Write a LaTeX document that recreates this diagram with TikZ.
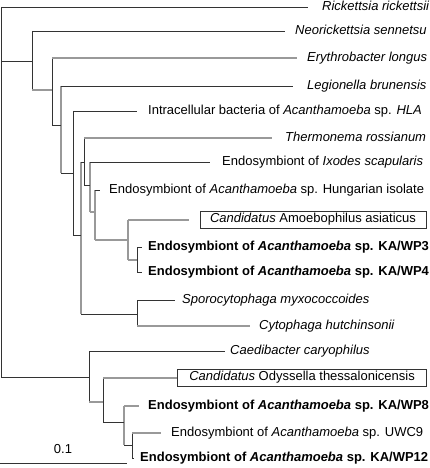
\documentclass[tikz,border=0pt]{standalone}
\usepackage{fontspec}
\setmainfont{Liberation Sans}

\begin{document}
\begin{tikzpicture}[
    x=1pt, y=-1pt,
    font=\fontsize{13}{15}\selectfont,
    dk/.style={draw=black!80, line width=0.8pt},
    lt/.style={draw=black!40, line width=1.1pt},
    leaf/.style={anchor=west, inner xsep=10pt, inner ysep=0pt, text height=0.62em, text depth=0pt},
    strain/.style={leaf, font=\fontsize{13}{15}\selectfont\bfseries},
    taxbox/.style={anchor=west, draw=black!80, line width=0.7pt, inner xsep=10pt, inner ysep=4pt, text height=0.72em, text depth=0.22em}
]
\useasboundingbox (0,0) rectangle (429,468);

% Branch points
\coordinate (root) at (1,5);
\coordinate (nA) at (32,61);
\coordinate (nB) at (52,90);
\coordinate (nC) at (61,125);
\coordinate (nD) at (73,173);
\coordinate (nE) at (81,235);
\coordinate (nF) at (84,162);
\coordinate (nG) at (90,185);
\coordinate (nH) at (95,212);
\coordinate (nI) at (128,240);
\coordinate (nJ) at (137,260);
\coordinate (nK) at (137,314);
\coordinate (nL) at (89,377);
\coordinate (nM) at (103,402);
\coordinate (nN) at (124,422);
\coordinate (nO) at (132,445);

% Taxa
\node[leaf, inner xsep=14pt] (rick) at (308,7) {\textit{Rickettsia rickettsii}};
\node[leaf] (neo) at (285,31) {\textit{Neorickettsia sennetsu}};
\node[leaf] (ery) at (297,58) {\textit{Erythrobacter longus}};
\node[leaf, inner xsep=14pt] (leg) at (293,86) {\textit{Legionella brunensis}};
\node[leaf, inner xsep=11pt] (hla) at (137,111) {Intracellular bacteria of \textit{Acanthamoeba} sp. \textit{HLA}};
\node[leaf, inner xsep=13pt] (therm) at (272,138) {\textit{Thermonema rossianum}};
\node[leaf, inner xsep=12pt] (ixo) at (210,162) {Endosymbiont of \textit{Ixodes scapularis}};
\node[leaf, inner xsep=9pt] (hung) at (100,190) {Endosymbiont of \textit{Acanthamoeba} sp. Hungarian isolate};
\node[taxbox, outer xsep=11pt] (amoe) at (189,220) {\textit{Candidatus} Amoebophilus asiaticus};
\node[strain, inner xsep=6pt] (wp3) at (142,247) {Endosymbiont of \textit{Acanthamoeba} sp. KA/WP3};
\node[strain, inner xsep=6pt] (wp4) at (142,272) {Endosymbiont of \textit{Acanthamoeba} sp. KA/WP4};
\node[leaf, inner xsep=7pt] (sporo) at (175,300) {\textit{Sporocytophaga myxococcoides}};
\node[leaf, inner xsep=9pt] (cyto) at (250,326) {\textit{Cytophaga hutchinsonii}};
\node[leaf, inner xsep=5pt] (caed) at (225,351) {\textit{Caedibacter caryophilus}};
\node[taxbox, inner xsep=12pt] (odys) at (177,378) {\textit{Candidatus} Odyssella thessalonicensis};
\node[strain, inner xsep=9pt] (wp8) at (139,406) {Endosymbiont of \textit{Acanthamoeba} sp. KA/WP8};
\node[leaf, inner xsep=10pt] (uwc9) at (161,433) {Endosymbiont of \textit{Acanthamoeba} sp. UWC9};
\node[strain, inner xsep=6pt] (wp12) at (134,458) {Endosymbiont of \textit{Acanthamoeba} sp. KA/WP12};

% Vertical branches
\draw[dk] (root |- rick.west) -- (root |- nL);
\draw[dk] (nA |- neo.west) -- (nA |- nB);
\draw[dk] (nB |- ery.west) -- (nB |- nC);
\draw[lt] (nC |- leg.west) -- (nC |- nD);
\draw[dk] (nD |- hla.west) -- (nD |- nE);
\draw[lt] (nE |- nF) -- (nE |- nK);
\draw[dk] (nF |- therm.west) -- (nF |- nG);
\draw[lt] (nG |- ixo.west) -- (nG |- nH);
\draw[lt] (nH |- hung.west) -- (nH |- nI);
\draw[lt] (nI |- amoe.west) -- (nI |- nJ);
\draw[dk] (nJ |- wp3.west) -- (nJ |- wp4.west);
\draw[dk] (nK |- sporo.west) -- (nK |- cyto.west);
\draw[dk] (nL |- caed.west) -- (nL |- nM);
\draw[dk] (nM |- odys.west) -- (nM |- nN);
\draw[lt] (nN |- wp8.west) -- (nN |- nO);
\draw[dk] (nO |- uwc9.west) -- (nO |- wp12.west);

% Inner edges
\draw[dk] (root |- nA) -- (nA);
\draw[lt] (nA |- nB) -- (nB);
\draw[dk] (nB |- nC) -- (nC);
\draw[dk] (nC |- nD) -- (nD);
\draw[dk] (nD |- nE) -- (nE);
\draw[dk] (nE |- nF) -- (nF);
\draw[dk] (nF |- nG) -- (nG);
\draw[lt] (nG |- nH) -- (nH);
\draw[lt] (nH |- nI) -- (nI);
\draw[lt] (nI |- nJ) -- (nJ);
\draw[dk] (nE |- nK) -- (nK);
\draw[dk] (root |- nL) -- (nL);
\draw[lt] (nL |- nM) -- (nM);
\draw[dk] (nM |- nN) -- (nN);
\draw[dk] (nN |- nO) -- (nO);

% Terminal edges
\draw[dk] (root |- rick.west) -- (rick.west);
\draw[dk] (nA |- neo.west) -- (neo.west);
\draw[lt] (nB |- ery.west) -- (ery.west);
\draw[dk] (nC |- leg.west) -- (leg.west);
\draw[dk] (nD |- hla.west) -- (hla.west);
\draw[lt] (nF |- therm.west) -- (therm.west);
\draw[dk] (nG |- ixo.west) -- (ixo.west);
\draw[dk] (nH |- hung.west) -- (hung.west);
\draw[lt] (nI |- amoe.west) -- (amoe.west);
\draw[dk] (nJ |- wp3.west) -- (wp3.west);
\draw[dk] (nJ |- wp4.west) -- (wp4.west);
\draw[dk] (nK |- sporo.west) -- (sporo.west);
\draw[lt] (nK |- cyto.west) -- (cyto.west);
\draw[dk] (nL |- caed.west) -- (caed.west);
\draw[lt] (nM |- odys.west) -- (odys.west);
\draw[lt] (nN |- wp8.west) -- (wp8.west);
\draw[lt] (nO |- uwc9.west) -- (uwc9.west);
\draw[dk] (nO |- wp12.west) -- (wp12.west);

% Scale bar
\coordinate (bar-l) at (0,463);
\coordinate (bar-r) at (127,463);
\draw[dk] (bar-l) -- (bar-r);
\node (barlabel) at (63,449) {0.1};

\end{tikzpicture}
\end{document}
